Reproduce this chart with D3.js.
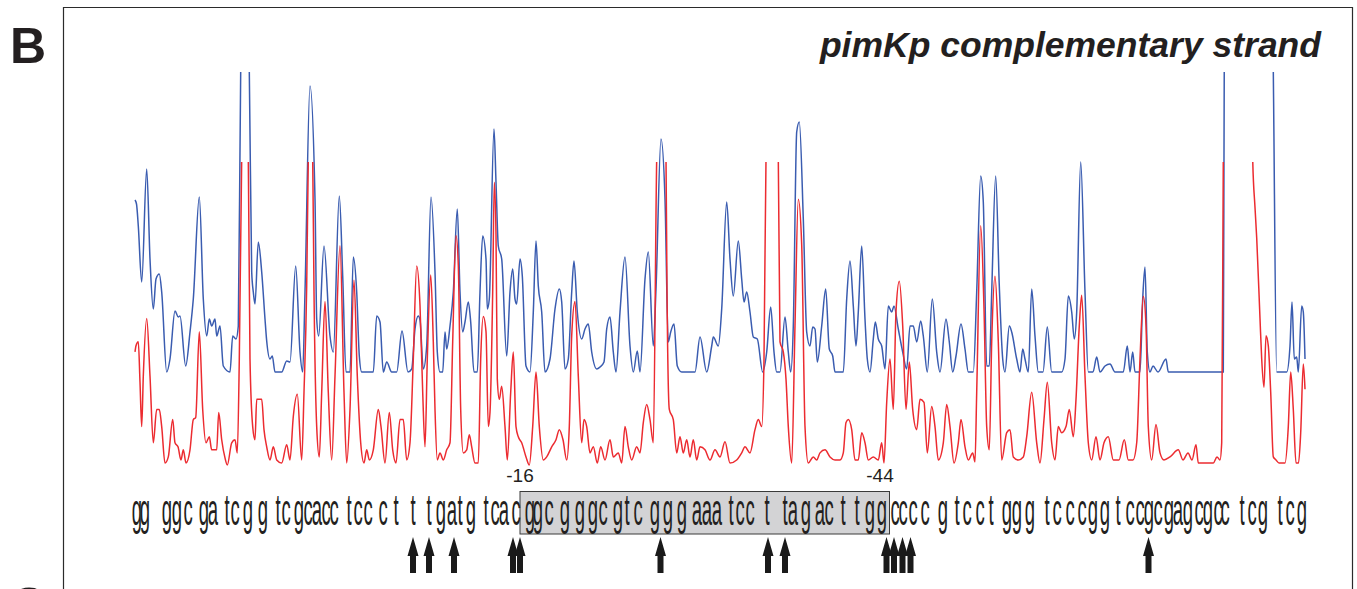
<!DOCTYPE html>
<html>
<head>
<meta charset="utf-8">
<script src="https://cdnjs.cloudflare.com/ajax/libs/d3/7.8.5/d3.min.js"></script>
<style>
  body { margin: 0; background: #fff; }
  text { font-family: "Liberation Sans", Arial, Helvetica, sans-serif; }
</style>
</head>
<body>
<div id="chart"></div>
<script>
(function() {
  // scan position / intensity pairs (null = no signal)
  var blueTrace = [[0,172],[1.5,168],[3.3,146],[6.7,90],[11.7,203],[15,113],[18.3,63],[21,93],[24.3,98],[26.7,80],[31.7,0],[35,13],[40,61],[43.3,55],[45,56],[50.7,6],[55,40],[58.3,73],[64.3,175],[68.3,73],[71.7,36],[74.3,53],[76.7,46],[80,53],[81.7,36],[85,46],[88.3,6],[95,0],[97.7,36],[101,33],[103.3,46],[105.7,301],[110,420],[114.3,301],[116.7,100],[118.3,80],[120,68],[123.3,130],[126.7,100],[130,53],[131.7,31],[135,13],[137.3,16],[140,0],[146.7,0],[151.7,11],[155,10],[160.7,106],[165,20],[167.7,0],[170,80],[175,286],[180,173],[181.7,53],[183.7,36],[189,126],[195,36],[198.3,20],[204.3,176],[207.7,96],[211,0],[215,0],[218.3,115],[221.7,80],[224.3,16],[226.7,0],[238.3,0],[241.7,56],[245,50],[248.3,0],[251.7,10],[256.7,0],[261.7,0],[267,41],[273,0],[276.7,3],[280,43],[283.3,56],[285,52],[288.3,3],[291.7,26],[296,175],[300,100],[302.3,20],[305,0],[307.7,0],[310,40],[311.7,23],[315,46],[318.3,80],[322.3,163],[325,80],[327.7,40],[330,50],[333.3,70],[335.7,50],[339,0],[342.3,0],[345,80],[347.7,136],[351,113],[352.3,63],[354.3,73],[359,243],[361,190],[363.3,126],[366.7,113],[371.7,16],[375,80],[377.7,103],[380,73],[381.7,68],[385,113],[387.3,96],[391,6],[395,0],[398.3,60],[401,131],[403.3,86],[406.7,60],[410,0],[415,13],[420,63],[424.3,83],[426.7,70],[430,3],[433.3,13],[436.7,80],[439,111],[442.3,60],[446.7,33],[450,43],[453.3,48],[456.7,20],[461.7,3],[465,5],[469,10],[471.7,43],[475,55],[478.3,20],[481,0],[485,60],[490,115],[495,26],[498.3,0],[502.3,21],[505,0],[510,93],[513.3,120],[518.3,26],[521,83],[526,233],[530,173],[533.3,30],[535.7,40],[539,48],[542.3,6],[546.7,0],[551.7,0],[560,0],[565,35],[571.7,0],[576.7,26],[578.3,35],[583.3,26],[586.7,63],[591.7,170],[595,113],[598.3,76],[603.3,131],[606.7,93],[609,70],[611.7,80],[615,60],[618.3,35],[622.3,33],[627.7,0],[631.7,20],[635.7,65],[639,20],[641.7,0],[645,0],[650,55],[653.3,20],[655.7,0],[658.3,46],[661.7,240],[664.3,250],[668.3,153],[671.7,40],[675,26],[677.7,45],[680,43],[682.3,10],[686.7,46],[690.7,83],[694.3,23],[697.7,16],[700,0],[708.3,0],[711.7,73],[715,111],[718.3,66],[721,26],[723.3,60],[726.7,126],[730,53],[732.3,13],[735,0],[738.3,33],[740.3,50],[743.3,33],[746.7,26],[750,3],[753.3,66],[756.7,60],[759,66],[763.3,43],[767.7,20],[771.7,3],[775,46],[778.3,46],[781.7,30],[785.7,51],[788.3,36],[792.3,0],[797.3,73],[801.7,20],[805,0],[811,53],[814.3,30],[817.7,0],[821,16],[826,48],[830,23],[833.3,0],[838.3,0],[841.7,80],[845.7,196],[848.3,170],[851.7,6],[854.3,6],[856.7,80],[860.7,196],[864.3,86],[867.7,13],[870,0],[874.3,46],[876.7,40],[881.7,13],[885,0],[887.7,23],[890,13],[893.3,0],[896.7,83],[900,36],[903.3,0],[908,0],[912.3,45],[916.7,0],[926.7,0],[930,13],[933.3,76],[936.7,60],[939.3,33],[941.7,60],[945.7,210],[950,80],[953.3,0],[958,0],[961.7,15],[965,0],[970,6],[975,8],[980,0],[988.3,0],[992.3,26],[995,0],[997.7,20],[1000,0],[1005,0],[1007.7,73],[1010,105],[1012.3,20],[1015,0],[1018,6],[1023,0],[1031,13],[1033.3,0],[1088.3,0],[1089.3,320],[1092,500],[1100,null],[1136,500],[1138.3,301],[1141.7,0],[1151.7,0],[1155,26],[1157,70],[1159.3,13],[1161.7,15],[1163.3,0],[1166.7,66],[1168.3,60],[1170,13]];

  var redTrace = [[0,112],[1,118],[3.3,122],[5,82],[6.7,38],[8.3,88],[11.7,145],[15,88],[18.3,22],[21.7,55],[24.3,55],[26.7,38],[30,2],[33.3,8],[37.7,45],[40,22],[43,18],[46,5],[48.3,15],[51,2],[55,15],[58.3,45],[60.7,47],[64.3,132],[67.7,55],[71,22],[74.3,28],[76.7,15],[81.7,15],[83.7,52],[86.7,25],[90,7],[92.3,0],[96.7,22],[100,25],[102.3,12],[104.3,105],[106.7,303],[110,400],[113.3,303],[115,105],[117.7,38],[120,25],[121.7,65],[126.7,65],[129,35],[131.7,18],[135,5],[138.3,18],[141.7,5],[146.7,2],[151.7,20],[155,5],[158.3,48],[162.3,70],[166.7,5],[169,72],[171.7,178],[173.3,303],[175.5,360],[177.7,303],[179,172],[181.7,38],[184.3,8],[186.7,72],[190,162],[193.3,72],[196.7,5],[200,88],[205,217],[209,72],[211.7,2],[215,55],[219,183],[222.3,88],[225.7,22],[229,2],[231.7,15],[234.3,5],[238.3,15],[243.3,55],[246,38],[250,2],[254.3,52],[257.7,15],[261,2],[265,45],[268.3,45],[271.7,5],[275,22],[278.3,105],[281.7,197],[285,158],[287.7,72],[290,18],[292.3,105],[295.7,188],[298.3,122],[300,55],[302.3,5],[305,12],[308.3,5],[311.7,15],[315,22],[317.7,122],[321,227],[323.3,198],[325.7,55],[328.3,12],[331.7,15],[334.3,30],[336.7,18],[340,2],[343.3,2],[345.7,105],[348.3,147],[351,132],[353.3,38],[355,52],[357.7,172],[359.3,280],[361,228],[362.3,85],[364.3,65],[366.7,78],[370,38],[372.3,5],[375.7,72],[378.3,112],[381,38],[383.3,28],[386.7,22],[391,8],[394.3,0],[397.7,38],[401,92],[404.3,38],[408.3,5],[411.7,8],[416.7,18],[421,25],[424.3,35],[428,25],[431.7,5],[434.3,38],[436.7,128],[440,162],[443.3,88],[446.7,22],[449,45],[451.7,38],[455,12],[458.3,18],[462.3,2],[465.7,18],[470,5],[475,25],[478.3,8],[483.3,12],[486.7,2],[490,38],[493.3,18],[496.7,5],[501.7,18],[505,12],[508.3,42],[511.7,60],[515,45],[518.3,22],[521.7,303],[526.3,420],[531,303],[532,172],[534.3,55],[538.3,45],[541.7,12],[545,28],[548.3,12],[551.7,25],[555,8],[558.3,25],[561.7,5],[565,18],[570,15],[575,5],[580,15],[585,8],[590,23],[595,2],[601.7,5],[606.7,12],[610,18],[615,12],[620,35],[623.3,45],[626.7,38],[629,105],[631,303],[637,420],[643.3,303],[645,122],[648.3,112],[651,85],[653.3,38],[656.7,2],[660,138],[663.3,263],[666.7,218],[670,38],[673.3,2],[678.3,8],[681.7,5],[685,12],[690,15],[695,8],[700,5],[705,5],[708.3,12],[711,42],[713.3,45],[716.7,35],[720,5],[723.3,5],[726.7,32],[730,22],[733.3,5],[738.3,8],[743.3,5],[746.7,22],[749,2],[751.7,62],[755,105],[758.3,55],[761,152],[764.3,182],[767.7,138],[771,55],[774.3,102],[777.7,55],[781.7,35],[785,65],[789,62],[792.3,12],[796.7,58],[800,38],[803.3,5],[808.3,22],[811.7,60],[815,38],[819,2],[823.3,22],[826,45],[830,18],[833.3,5],[837.7,12],[840,3],[841.7,72],[845.7,237],[849,155],[851.7,38],[854.3,15],[856.7,122],[860,187],[863.3,122],[866.7,5],[871.7,32],[875,35],[878.3,8],[883.3,5],[888.3,8],[891.7,28],[896.7,72],[901.7,22],[905,2],[909,45],[912.3,82],[916.7,22],[920,5],[923.3,38],[926.7,32],[931,38],[934.3,55],[938.3,28],[941,65],[944.3,138],[946.7,168],[950,88],[953.3,22],[956.7,5],[961,28],[965,5],[969,22],[973.3,28],[978.3,5],[984,5],[989.3,25],[993.3,5],[998,5],[1001.7,22],[1005,105],[1008.3,167],[1011,138],[1013.3,38],[1016.7,5],[1021,40],[1025,12],[1029,5],[1035,8],[1043.3,15],[1048,5],[1053,12],[1057,5],[1061,20],[1063.3,2],[1078.3,2],[1082,8],[1085,5],[1086.7,22],[1088.3,303],[1090,500],[1100,null],[1115,500],[1117.7,303],[1120,255],[1121.7,225],[1125,145],[1126.7,105],[1129,77],[1131,128],[1133.3,118],[1135.7,72],[1138.3,8],[1141,5],[1144,2],[1150,2],[1153.3,38],[1155.7,92],[1158.3,55],[1161,2],[1163.5,2],[1165.7,32],[1168.3,100],[1170,75]];

  // sequence read under the traces and scan position of each base
  var bases = "ggggcgatcggtcgcacctccctttgatgtcac" +
              "ggcgggcgtcgggaaatccttagacttgg" +
              "ccccgtcctgggtcccggtccgcgagcgcctcgtcg";
  var basePos = [2,10,32,42,53,69,78,92,100,113,128,143,151,164,173,182,191,199,214,223,233,248,261,278,294,306,317,325,336,351,360,369,381,
                 395,403,414,430,445,458,468,483,492,503,520,533,547,562,572,582,596,605,615,632,650,658,671,685,694,708,722,735,747,
                 760,768,778,790,808,822,832,845,856,872,882,895,912,922,935,947,958,970,983,995,1005,1014,1023,1034,1043,1053,1064,1073,1083,1090,1107,1117,1128,1145,1155,1167];

  var arrowPos = [278, 294, 319, 378, 385, 525.5, 633, 650, 751.5, 759, 767.5, 775.5, 1013.5];
  var footprint = [385, 754.5];
  var boundLabels = ["-16", "-44"];
  var boundLabelPos = [385, 745];

  var width = 1357;
  var height = 589;

  var svg = d3.select("#chart")
    .append("svg")
    .attr("width", width)
    .attr("height", height);

  var x = d3.scaleLinear().domain([0, 1170]).range([135, 1305]);
  var yBlue = d3.scaleLinear().domain([0, 300]).range([372, 72]);
  var yRed = d3.scaleLinear().domain([0, 300]).range([465, 162]);

  var defs = svg.append("defs");
  defs.append("clipPath").attr("id", "clipBlue")
    .append("rect").attr("x", 0).attr("y", yBlue(300)).attr("width", width).attr("height", height);
  defs.append("clipPath").attr("id", "clipRed")
    .append("rect").attr("x", 0).attr("y", yRed(300)).attr("width", width).attr("height", height);

  // frame
  svg.append("path")
    .attr("d", "M63.5,589V7.5H1352.5V589")
    .attr("fill", "none")
    .attr("stroke", "#2b2b2b")
    .attr("stroke-width", 1.2);

  svg.append("text")
    .attr("x", 10).attr("y", 63)
    .attr("font-size", 50).attr("font-weight", "bold")
    .attr("fill", "#231f20")
    .text("B");
  // top of the next panel's letter, cut by the page edge
  svg.append("text")
    .attr("x", 10).attr("y", 623)
    .attr("font-size", 50).attr("font-weight", "bold")
    .attr("fill", "#231f20")
    .text("C");

  svg.append("text")
    .attr("x", 1321).attr("y", 57)
    .attr("text-anchor", "end")
    .attr("font-size", 35.5).attr("font-weight", "bold").attr("font-style", "italic")
    .attr("fill", "#231f20")
    .text("pimKp complementary strand");

  var blueLine = d3.line()
    .defined(function(d) { return d[1] !== null; })
    .x(function(d) { return x(d[0]); })
    .y(function(d) { return yBlue(d[1]); })
    .curve(d3.curveMonotoneX);
  var redLine = d3.line()
    .defined(function(d) { return d[1] !== null; })
    .x(function(d) { return x(d[0]); })
    .y(function(d) { return yRed(d[1]); })
    .curve(d3.curveMonotoneX);

  svg.append("path")
    .datum(blueTrace)
    .attr("clip-path", "url(#clipBlue)")
    .attr("fill", "none")
    .attr("stroke", "#3a5cb0")
    .attr("stroke-width", 1.5)
    .attr("d", blueLine);

  svg.append("path")
    .datum(redTrace)
    .attr("clip-path", "url(#clipRed)")
    .attr("fill", "none")
    .attr("stroke", "#ec2b30")
    .attr("stroke-width", 1.5)
    .attr("d", redLine);

  // protected region
  svg.append("rect")
    .attr("x", x(footprint[0]))
    .attr("y", 491.5)
    .attr("width", x(footprint[1]) - x(footprint[0]))
    .attr("height", 42.5)
    .attr("fill", "#d3d3d5")
    .attr("stroke", "#3a3a3a")
    .attr("stroke-width", 1);

  svg.selectAll(".bound")
    .data(boundLabels)
    .enter()
    .append("text")
    .attr("class", "bound")
    .attr("x", function(d, i) { return x(boundLabelPos[i]); })
    .attr("y", 482)
    .attr("text-anchor", "middle")
    .attr("font-size", 19)
    .attr("fill", "#231f20")
    .text(function(d) { return d; });

  svg.selectAll(".base")
    .data(bases.split(""))
    .enter()
    .append("text")
    .attr("class", "base")
    .attr("transform", function(d, i) { return "translate(" + x(basePos[i]) + ",525) scale(0.42,1)"; })
    .attr("text-anchor", "middle")
    .attr("font-size", 44)
    .attr("fill", "#231f20")
    .text(function(d) { return d; });

  svg.selectAll(".arrow")
    .data(arrowPos)
    .enter()
    .append("path")
    .attr("class", "arrow")
    .attr("fill", "#1a1a1a")
    .attr("d", function(d) {
      var cx = x(d);
      return "M" + cx + ",537L" + (cx + 5.5) + ",556L" + (cx + 3) + ",556L" + (cx + 3) + ",573L" +
        (cx - 3) + ",573L" + (cx - 3) + ",556L" + (cx - 5.5) + ",556Z";
    });
})();
</script>
</body>
</html>
